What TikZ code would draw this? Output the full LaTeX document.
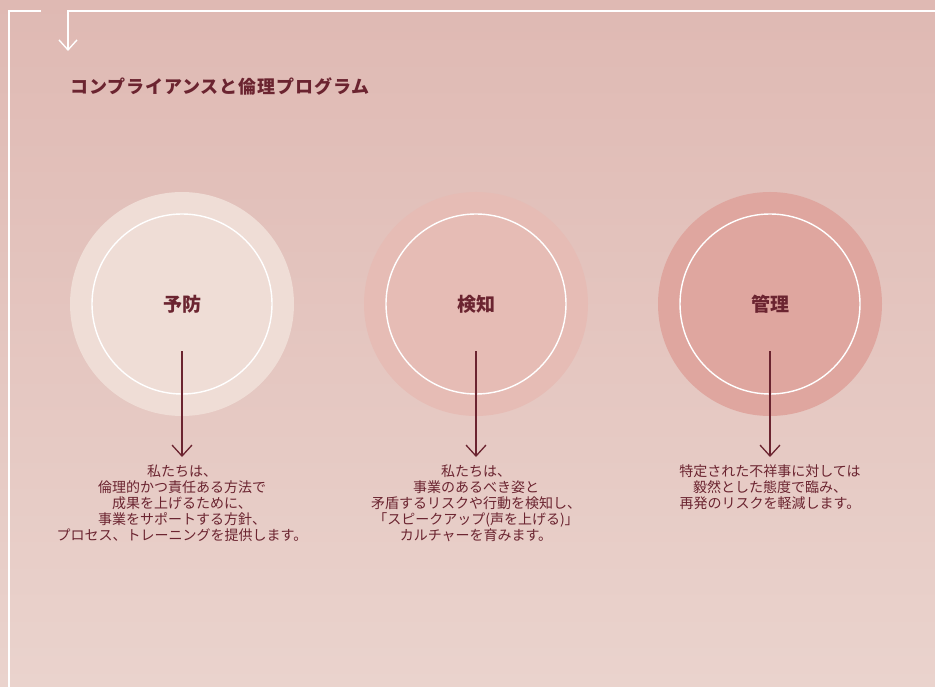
\documentclass[tikz,border=0pt]{standalone}
\usepackage{fontspec}
\newfontfamily\jp{Noto Sans CJK JP}
\newfontfamily\jptitle[LetterSpace=5]{Noto Sans CJK JP}
\usetikzlibrary{arrows.meta}
\definecolor{bgtop}{RGB}{223,185,179}
\definecolor{bgbot}{RGB}{234,211,205}
\definecolor{maroon}{RGB}{107,36,48}
\definecolor{cone}{RGB}{239,221,214}
\definecolor{ctwo}{RGB}{230,188,181}
\definecolor{cthree}{RGB}{223,166,159}
\tikzset{
  frame/.style={draw=white, line width=1.4pt},
  outerc/.style={circle, minimum size=224pt, inner sep=0pt},
  innerc/.style={circle, draw=white, line width=1.4pt, minimum size=180pt, inner sep=0pt,
    font=\jp\fontsize{19}{22}\selectfont\bfseries, text=maroon},
  conn/.style={draw=maroon, line width=1.3pt, -{Straight Barb[length=11pt,width=20pt,line width=1.3pt]}},
  body/.style={anchor=north, align=center, inner sep=0pt, text=maroon,
    font=\jp\fontsize{14}{16}\selectfont},
}
\begin{document}
\begin{tikzpicture}[x=1pt,y=-1pt]
\shade[top color=bgtop,bottom color=bgbot] (0,0) rectangle (935,687);
\useasboundingbox (0,0) rectangle (935,687);
% frame
\coordinate (fbl) at (9,687);
\coordinate (ftl) at (9,11);
\coordinate (fgap) at (41,11);
\coordinate (fr) at (935,11);
\coordinate (fa) at (68,11);
\coordinate (fatip) at (68,51);
\draw[frame] (fbl) -- (ftl) -- (fgap);
\draw[frame, -{Straight Barb[length=10pt,width=18pt,line width=1.4pt]}] (fr) -- (fa) -- (fatip);
% title
\node[anchor=west, inner sep=0pt, text=maroon, font=\jptitle\fontsize{18}{20}\selectfont\bfseries] (title) at (70,87) {コンプライアンスと倫理プログラム};
% circles
\node[outerc, fill=cone] (o1) at (182,304) {};
\node[innerc] (i1) at (182,304) {予防};
\node[outerc, fill=ctwo] (o2) at (476,304) {};
\node[innerc] (i2) at (476,304) {検知};
\node[outerc, fill=cthree] (o3) at (770,304) {};
\node[innerc] (i3) at (770,304) {管理};
% connectors
\coordinate (s1) at (182,351); \coordinate (e1) at (182,457);
\coordinate (s2) at (476,351); \coordinate (e2) at (476,457);
\coordinate (s3) at (770,351); \coordinate (e3) at (770,457);
\draw[conn] (s1) -- (e1);
\draw[conn] (s2) -- (e2);
\draw[conn] (s3) -- (e3);
% texts
\node[body] (t1) at (182,465) {私たちは、\\倫理的かつ責任ある方法で\\成果を上げるために、\\事業をサポートする方針、\\プロセス、トレーニングを提供します。};
\node[body] (t2) at (476,465) {私たちは、\\事業のあるべき姿と\\矛盾するリスクや行動を検知し、\\「スピークアップ(声を上げる)」\\カルチャーを育みます。};
\node[body] (t3) at (770,465) {特定された不祥事に対しては\\毅然とした態度で臨み、\\再発のリスクを軽減します。};
\end{tikzpicture}
\end{document}
